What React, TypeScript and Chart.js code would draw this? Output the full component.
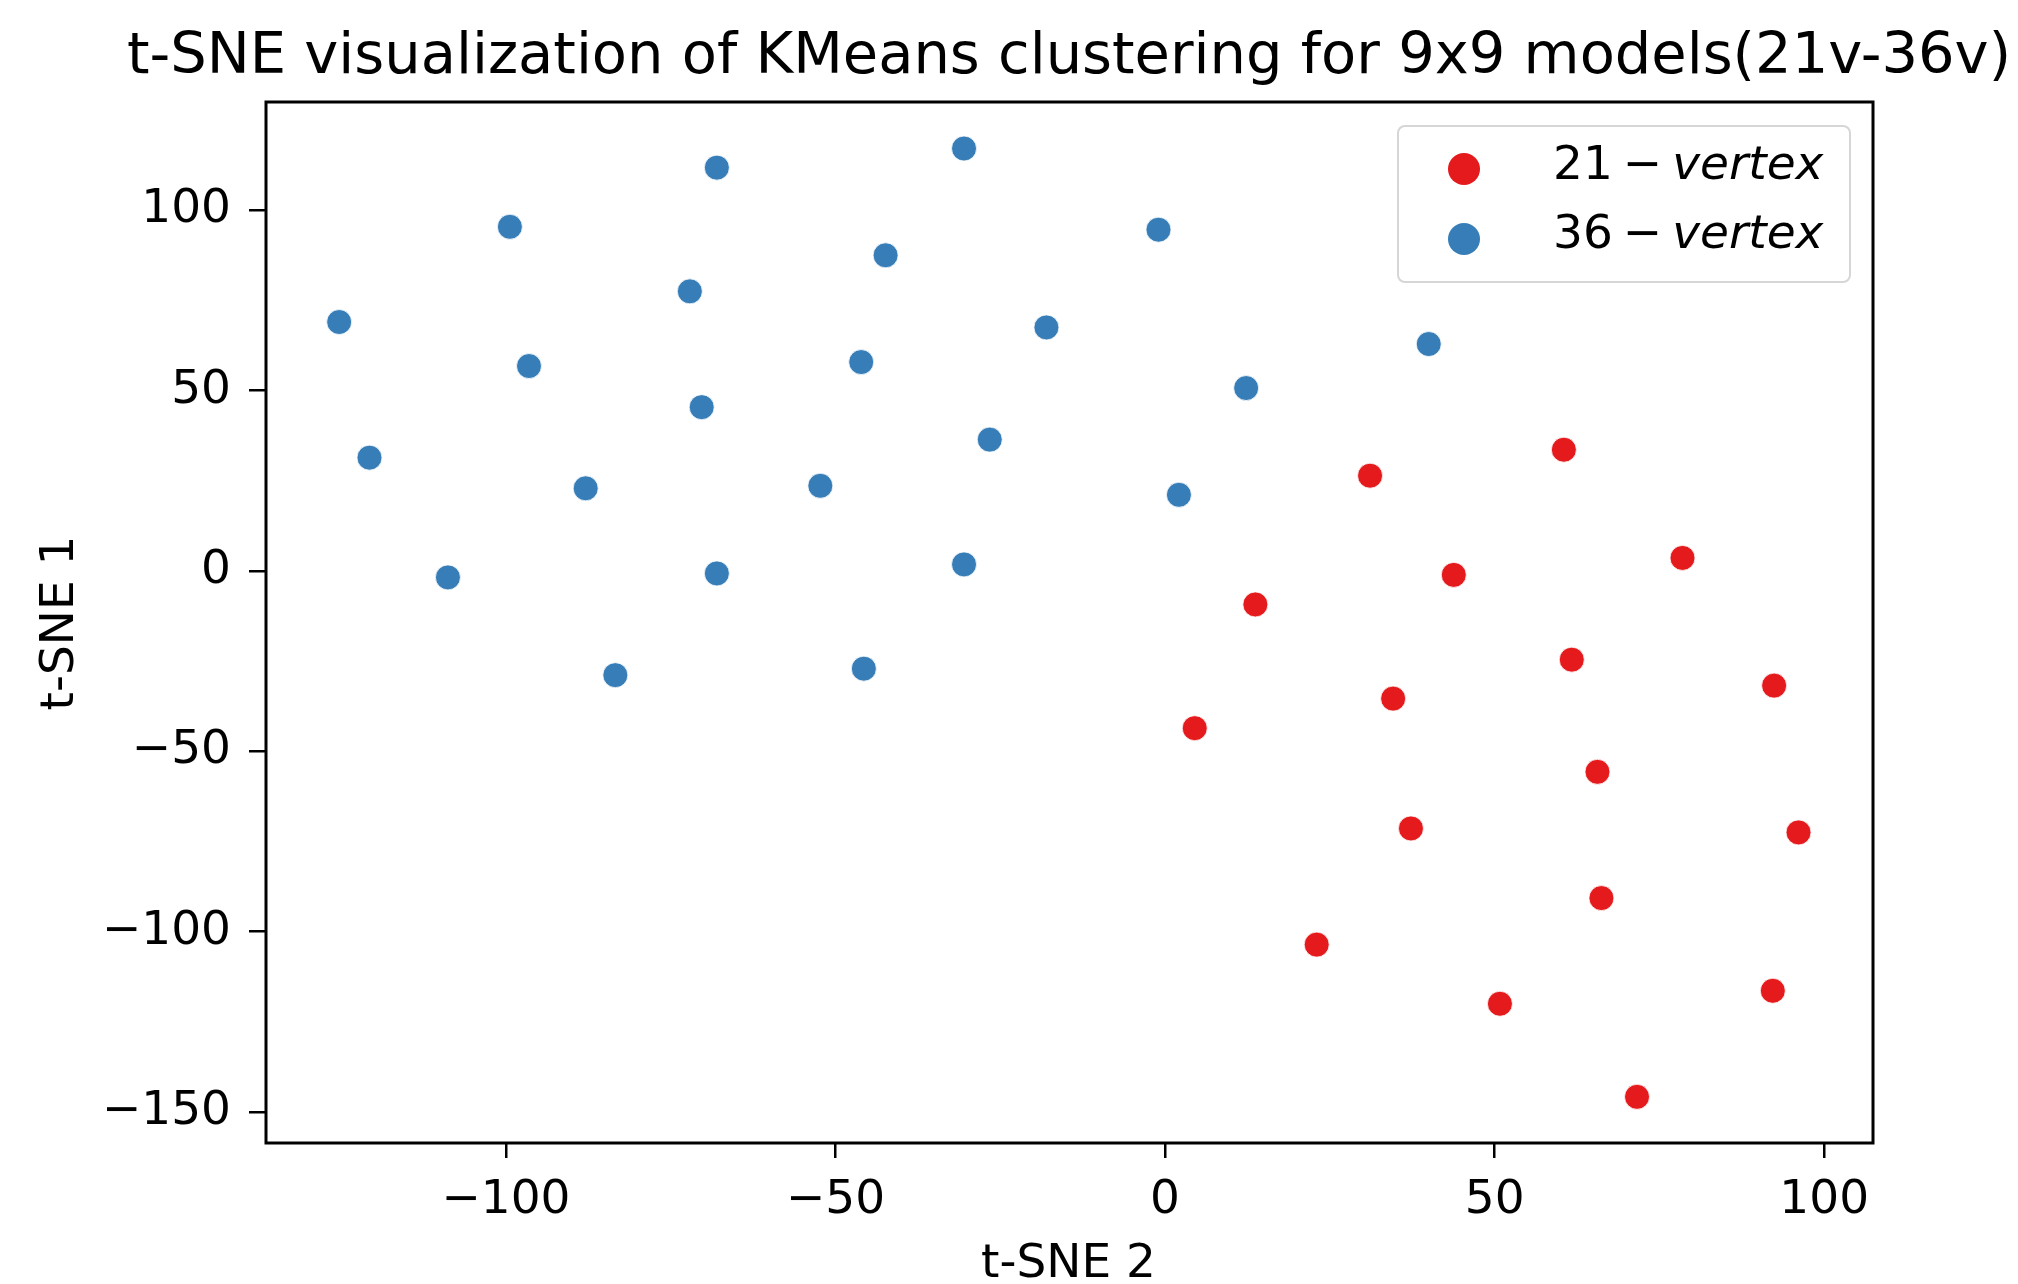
import React, { useEffect, useRef } from 'react';
import { Chart, registerables } from 'chart.js';

Chart.register(...registerables);

const TITLE = 't-SNE visualization of KMeans clustering for 9x9 models(21v-36v)';
const X_LABEL = 't-SNE 2';
const Y_LABEL = 't-SNE 1';
const SERIES_LABELS = ['21 − vertex', '36 − vertex'];
const SERIES_COLORS = ['#e41a1c', '#377eb8'];

const RED_X = [60.5, 31.1, 78.5, 43.8, 13.7, 61.7, 34.6, 92.4, 4.5, 65.6, 37.3, 96.1, 66.2, 23.0, 92.2, 50.8, 71.6];
const RED_Y = [33.6, 26.4, 3.6, -1.1, -9.3, -24.6, -35.4, -31.8, -43.6, -55.7, -71.4, -72.5, -90.7, -103.6, -116.4, -120.0, -145.8];

const BLUE_X = [-125.3, -99.4, -68.0, -30.5, -1.0, -72.1, -42.4, -96.5, -46.1, -70.3, -18.0, 40.0, 12.3, -120.7, -87.9, -52.3, -26.6, 2.1, -108.8, -68.0, -30.5, -83.4, -45.7];
const BLUE_Y = [69.0, 95.4, 111.8, 117.1, 94.6, 77.5, 87.5, 56.8, 57.9, 45.4, 67.5, 62.9, 50.7, 31.4, 22.9, 23.6, 36.4, 21.1, -1.8, -0.7, 1.8, -28.9, -27.1];

const X_TICKS = [-100, -50, 0, 50, 100];
const Y_TICKS = [-150, -100, -50, 0, 50, 100];
const X_RANGE = [-136.4, 107.4];
const Y_RANGE = [-158.6, 130.0];

const W = 2018;
const H = 1284;
const FONT = '"DejaVu Sans", sans-serif';

const fmt = (v: number | string) => String(v).replace('-', '\u2212');

const toPoints = (xs: number[], ys: number[]) => xs.map((x, i) => ({ x, y: ys[i] }));

const decorPlugin = {
  id: 'decor',
  afterDraw(chart: any) {
    const ctx = chart.ctx as CanvasRenderingContext2D;
    const a = chart.chartArea;
    ctx.save();
    // frame
    ctx.strokeStyle = '#000';
    ctx.lineWidth = 3;
    ctx.strokeRect(a.left, a.top, a.right - a.left, a.bottom - a.top);

    // title
    ctx.fillStyle = '#000';
    ctx.font = `57.5px ${FONT}`;
    ctx.textAlign = 'center';
    ctx.textBaseline = 'alphabetic';
    ctx.fillText(TITLE, 1069, 73);

    // axis titles
    ctx.font = `47px ${FONT}`;
    ctx.fillText(X_LABEL, 1068.5, 1277);
    ctx.save();
    ctx.translate(73, 623);
    ctx.rotate(-Math.PI / 2);
    ctx.fillText(Y_LABEL, 0, 0);
    ctx.restore();

    // legend
    const bx = 1398, by = 126, bw = 452, bh = 156, r = 7;
    ctx.beginPath();
    ctx.moveTo(bx + r, by);
    ctx.arcTo(bx + bw, by, bx + bw, by + bh, r);
    ctx.arcTo(bx + bw, by + bh, bx, by + bh, r);
    ctx.arcTo(bx, by + bh, bx, by, r);
    ctx.arcTo(bx, by, bx + bw, by, r);
    ctx.closePath();
    ctx.fillStyle = 'rgba(255,255,255,0.8)';
    ctx.fill();
    ctx.strokeStyle = '#d6d6d6';
    ctx.lineWidth = 2;
    ctx.stroke();

    const rowsY = [169, 239];
    const baseY = [179, 248];
    chart.data.datasets.forEach((ds: any, i: number) => {
      ctx.beginPath();
      ctx.arc(1464, rowsY[i], 16, 0, Math.PI * 2);
      ctx.fillStyle = ds.backgroundColor;
      ctx.fill();
      const [num, word] = String(ds.label).split(' − ');
      ctx.fillStyle = '#000';
      ctx.textAlign = 'left';
      ctx.font = `47px ${FONT}`;
      let x = 1553;
      ctx.fillText(num, x, baseY[i]);
      x += ctx.measureText(num).width + 10;
      ctx.fillText('\u2212', x, baseY[i]);
      x += ctx.measureText('\u2212').width + 10;
      ctx.font = `italic 47px ${FONT}`;
      ctx.fillText(word, x, baseY[i]);
    });
    ctx.restore();
  },
};

export default function App() {
  const ref = useRef<HTMLCanvasElement | null>(null);

  useEffect(() => {
    if (!ref.current) return;
    const chart = new Chart(ref.current, {
      type: 'scatter',
      data: {
        datasets: [
          {
            label: SERIES_LABELS[0],
            data: toPoints(RED_X, RED_Y),
            backgroundColor: SERIES_COLORS[0],
            borderColor: '#ffffff',
            borderWidth: 0.8,
            pointRadius: 12.5,
          },
          {
            label: SERIES_LABELS[1],
            data: toPoints(BLUE_X, BLUE_Y),
            backgroundColor: SERIES_COLORS[1],
            borderColor: '#ffffff',
            borderWidth: 0.8,
            pointRadius: 12.5,
          },
        ],
      },
      options: {
        responsive: false,
        animation: false,
        devicePixelRatio: 1,
        layout: { padding: { left: 0, top: 102, right: W - 1873, bottom: 0 } },
        plugins: {
          legend: { display: false },
          title: { display: false },
          tooltip: { enabled: false },
        },
        scales: {
          x: {
            type: 'linear',
            min: X_RANGE[0],
            max: X_RANGE[1],
            afterBuildTicks: (s: any) => {
              s.ticks = X_TICKS.map((v) => ({ value: v }));
            },
            afterFit: (s: any) => {
              s.height = H - 1143;
            },
            grid: {
              display: true,
              drawOnChartArea: false,
              drawTicks: true,
              tickLength: 15,
              color: '#000',
              lineWidth: 2.5,
            },
            border: { display: false },
            ticks: {
              color: '#000',
              font: { family: FONT, size: 47 },
              padding: 15,
              maxRotation: 0,
              autoSkip: false,
              callback: (v: any) => fmt(v),
            },
          },
          y: {
            type: 'linear',
            min: Y_RANGE[0],
            max: Y_RANGE[1],
            afterBuildTicks: (s: any) => {
              s.ticks = Y_TICKS.map((v) => ({ value: v }));
            },
            afterFit: (s: any) => {
              s.width = 266;
            },
            grid: {
              display: true,
              drawOnChartArea: false,
              drawTicks: true,
              tickLength: 17,
              color: '#000',
              lineWidth: 2.5,
            },
            border: { display: false },
            ticks: {
              color: '#000',
              font: { family: FONT, size: 47 },
              padding: 18,
              autoSkip: false,
              callback: (v: any) => fmt(v),
            },
          },
        },
      },
      plugins: [decorPlugin],
    });
    return () => chart.destroy();
  }, []);

  return (
    <div style={{ position: 'fixed', left: 0, top: 0, width: W, height: H, background: '#fff' }}>
      <canvas ref={ref} width={W} height={H} style={{ width: W, height: H, display: 'block' }} />
    </div>
  );
}
